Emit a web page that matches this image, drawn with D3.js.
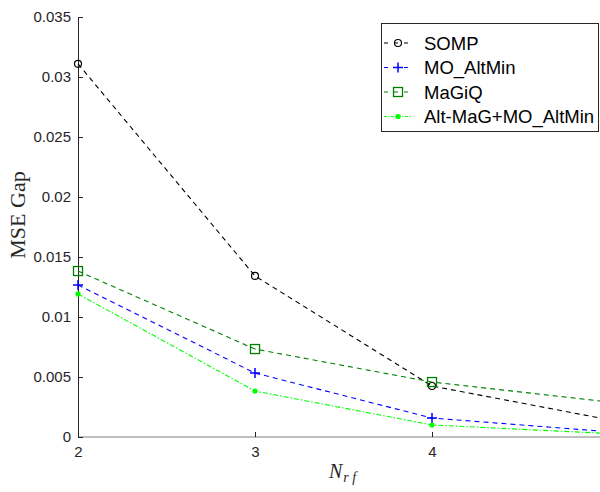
<!DOCTYPE html>
<html><head><meta charset="utf-8">
<script src="https://cdn.jsdelivr.net/npm/d3@7"></script>
<style>body{margin:0;background:#fff}svg{display:block}</style>
</head><body>
<script>
const xValues = [2, 3, 4, 5];
const xTicks = [2, 3, 4];
const yTicks = [0, 0.005, 0.01, 0.015, 0.02, 0.025, 0.03, 0.035];
const seriesNames = ["SOMP", "MO_AltMin", "MaGiQ", "Alt-MaG+MO_AltMin"];
const somp = [0.0311, 0.01342, 0.00425, 0.00144];
const moAltMin = [0.01267, 0.00533, 0.00158, 0.00044];
const magiq = [0.01383, 0.00733, 0.00458, 0.00292];
const altMag = [0.01192, 0.00383, 0.00100, 0.00029];

const W = 600, H = 492;
const svg = d3.select("body").append("svg").attr("width", W).attr("height", H);
const m = {l: 78, t: 17, b: 437};
const x = d3.scaleLinear().domain([2, 5]).range([m.l, m.l + 3 * 177]);
const y = d3.scaleLinear().domain([0, 0.035]).range([m.b, m.t]);

const series = [
  {name: seriesNames[0], vals: somp, color: "#000000", dash: "5,4", marker: "circle"},
  {name: seriesNames[1], vals: moAltMin, color: "#0000ff", dash: "5,4", marker: "plus"},
  {name: seriesNames[2], vals: magiq, color: "#008000", dash: "5,4", marker: "square"},
  {name: seriesNames[3], vals: altMag, color: "#00ff00", dash: "5,2,1.5,2", marker: "dot"}
];

svg.append("defs").append("clipPath").attr("id", "c")
  .append("rect").attr("x", 0).attr("y", 0).attr("width", W).attr("height", H);

// axes
const gx = svg.append("g").attr("transform", `translate(0,${m.b})`)
  .call(d3.axisBottom(x).tickValues(xTicks).tickSizeInner(-5).tickSizeOuter(0).tickPadding(9).tickFormat(d3.format("d")));
const gy = svg.append("g").attr("transform", `translate(${m.l},0)`)
  .call(d3.axisLeft(y).tickValues(yTicks).tickSizeInner(-5).tickSizeOuter(0).tickPadding(7).tickFormat(d => d === 0 ? "0" : String(+d.toFixed(3))));
[gx, gy].forEach(g => {
  g.select(".domain").attr("stroke", "#262626").attr("stroke-width", 1);
  g.selectAll(".tick line").attr("stroke", "#262626");
  g.selectAll(".tick text").attr("fill", "#262626").attr("font-family", "Liberation Sans, Arial, sans-serif").attr("font-size", 15);
});
gx.select(".domain").attr("stroke", "#808080").attr("d", `M${m.l},0H${W}`);

const line = d3.line().x((d, i) => x(xValues[i])).y(d => y(d));
function drawMarker(g, type, cx, cy, color) {
  if (type === "circle") g.append("circle").attr("cx", cx).attr("cy", cy).attr("r", 3.5).attr("fill", "none").attr("stroke", color).attr("stroke-width", 1.2);
  else if (type === "plus") g.append("path").attr("d", `M${cx-5},${cy}H${cx+5}M${cx},${cy-5}V${cy+5}`).attr("stroke", color).attr("stroke-width", 1.5);
  else if (type === "square") g.append("rect").attr("x", cx-4.5).attr("y", cy-4.5).attr("width", 9).attr("height", 9).attr("fill", "none").attr("stroke", color).attr("stroke-width", 1.3);
  else g.append("circle").attr("cx", cx).attr("cy", cy).attr("r", 2.6).attr("fill", color);
}
const plot = svg.append("g").attr("clip-path", "url(#c)");
series.forEach(s => {
  plot.append("path").attr("d", line(s.vals)).attr("fill", "none").attr("stroke", s.color)
    .attr("stroke-width", 1.1).attr("stroke-dasharray", s.dash);
  s.vals.forEach((v, i) => drawMarker(plot, s.marker, x(xValues[i]), y(v), s.color));
});

// labels
svg.append("text").attr("transform", `translate(25,215) rotate(-90)`)
  .attr("text-anchor", "middle").attr("font-family", "Liberation Serif, Times New Roman, serif")
  .attr("font-size", 22).attr("fill", "#262626").text("MSE Gap");
const xl = svg.append("text").attr("x", 329).attr("y", 478).attr("text-anchor", "start")
  .attr("font-family", "Liberation Serif, Times New Roman, serif").attr("font-style", "italic").attr("fill", "#262626");
xl.append("tspan").attr("font-size", 20).text("N");
xl.append("tspan").attr("font-size", 14).attr("dy", 4).attr("dx", 1).text("r f");

// legend
const lg = svg.append("g");
lg.append("rect").attr("x", 381.5).attr("y", 23.5).attr("width", 217).attr("height", 108)
  .attr("fill", "#fff").attr("stroke", "#262626").attr("stroke-width", 1);
series.forEach((s, i) => {
  const yy = 43 + i * 24.5;
  lg.append("line").attr("x1", 384).attr("x2", 412).attr("y1", yy).attr("y2", yy)
    .attr("stroke", s.color).attr("stroke-width", 1.1).attr("stroke-dasharray", s.dash === "5,4" ? "4,6" : "3,1.5,1,1.5");
  drawMarker(lg, s.marker, 398, yy, s.color);
  lg.append("text").attr("x", 424).attr("y", yy + 6.5).attr("font-family", "Liberation Sans, Arial, sans-serif")
    .attr("font-size", 18.5).attr("fill", "#000").text(s.name);
});
</script>
</body></html>
